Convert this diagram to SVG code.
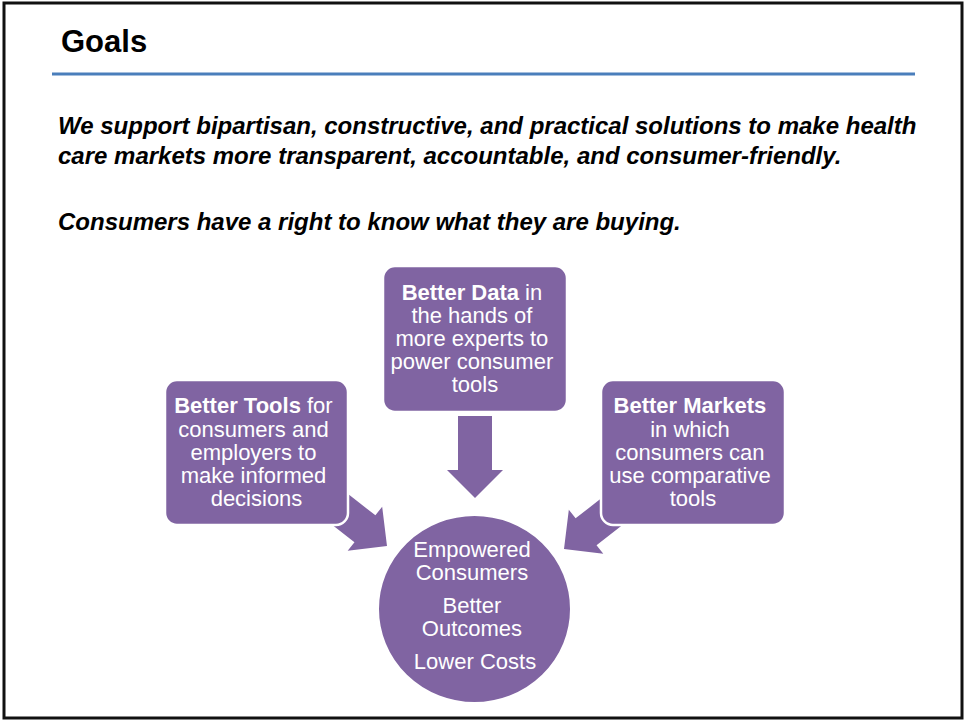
<svg xmlns="http://www.w3.org/2000/svg" width="965" height="721" viewBox="0 0 965 721">
  <style>
    .frame { fill: #ffffff; stroke: #111111; stroke-width: 3; }
    .rule { stroke: #4a7ebb; stroke-width: 3; }
    .title { font-family: "Liberation Sans", Arial, sans-serif; font-weight: bold; font-size: 31px; fill: #000000; }
    .lead { font-family: "Liberation Sans", Arial, sans-serif; font-weight: bold; font-style: italic; font-size: 24px; fill: #000000; }
    .box { fill: #8064a2; stroke: #ffffff; stroke-width: 2.5; }
    .hub { fill: #8064a2; stroke: #ffffff; stroke-width: 2; }
    .arrow { fill: #8064a2; }
    .label { font-family: "Liberation Sans", Arial, sans-serif; font-size: 22px; fill: #ffffff; text-anchor: middle; }
    .label .b { font-weight: bold; }
  </style>
  <defs>
    <!-- block arrow, tip at origin, pointing down -->
    <path id="blockArrow" d="M -17 -82 L 17 -82 L 17 -28 L 28 -28 L 0 0 L -28 -28 L -17 -28 Z"/>
  </defs>

  <rect class="frame" x="4" y="3" width="958" height="715"/>

  <text class="title" x="61" y="52">Goals</text>
  <line class="rule" x1="52" y1="74" x2="915" y2="74"/>

  <text class="lead" x="58" y="134">We support bipartisan, constructive, and practical solutions to make health</text>
  <text class="lead" x="58" y="164">care markets more transparent, accountable, and consumer-friendly.</text>
  <text class="lead" x="58" y="230">Consumers have a right to know what they are buying.</text>

  <g id="connectors">
    <use href="#blockArrow" class="arrow" transform="translate(475,498)"/>
    <use href="#blockArrow" class="arrow" transform="translate(387,546) rotate(-52)"/>
    <use href="#blockArrow" class="arrow" transform="translate(564,549) rotate(52)"/>
  </g>

  <g id="better-data">
    <rect class="box" x="383" y="266" width="184" height="146" rx="12"/>
    <text class="label">
      <tspan x="475" y="300"><tspan class="b">Better Data</tspan> in</tspan>
      <tspan x="475" y="323">the hands of</tspan>
      <tspan x="475" y="346">more experts to</tspan>
      <tspan x="475" y="369">power consumer</tspan>
      <tspan x="475" y="392">tools</tspan>
    </text>
  </g>

  <g id="better-tools">
    <rect class="box" x="165" y="380" width="183" height="145" rx="12"/>
    <text class="label">
      <tspan x="256.5" y="413"><tspan class="b">Better Tools</tspan> for</tspan>
      <tspan x="256.5" y="437">consumers and</tspan>
      <tspan x="256.5" y="460">employers to</tspan>
      <tspan x="256.5" y="483">make informed</tspan>
      <tspan x="256.5" y="506">decisions</tspan>
    </text>
  </g>

  <g id="better-markets">
    <rect class="box" x="601" y="380" width="184" height="145" rx="12"/>
    <text class="label">
      <tspan x="693" y="413" class="b">Better Markets</tspan>
      <tspan x="693" y="437">in which</tspan>
      <tspan x="693" y="460">consumers can</tspan>
      <tspan x="693" y="483">use comparative</tspan>
      <tspan x="693" y="506">tools</tspan>
    </text>
  </g>

  <g id="outcomes">
    <ellipse class="hub" cx="474.5" cy="609" rx="96.5" ry="94"/>
    <text class="label">
      <tspan x="475" y="557">Empowered</tspan>
      <tspan x="475" y="580">Consumers</tspan>
      <tspan x="475" y="613">Better</tspan>
      <tspan x="475" y="636">Outcomes</tspan>
      <tspan x="475" y="669">Lower Costs</tspan>
    </text>
  </g>
</svg>
